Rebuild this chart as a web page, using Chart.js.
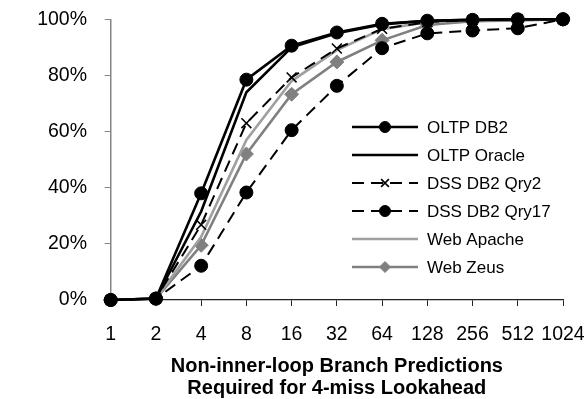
<!DOCTYPE html>
<html>
<head>
<meta charset="utf-8">
<script src="https://cdn.jsdelivr.net/npm/chart.js@4.4.1/dist/chart.umd.min.js"></script>
<style>
  html, body { margin: 0; padding: 0; background: #fff; }
  #wrap { width: 586px; height: 399px; }
</style>
</head>
<body>
<div id="wrap"><canvas id="chart"></canvas></div>
<script>
// ---- data ----
var predictions = ['1', '2', '4', '8', '16', '32', '64', '128', '256', '512', '1024'];
var oltpDb2    = [0, 0.5, 38.0, 78.5, 90.6, 95.3, 98.4, 99.5, 99.8, 100, 100];
var oltpOracle = [0, 0.5, 31.5, 74.0, 90.0, 95.0, 98.2, 99.5, 99.8, 100, 100];
var dssQry2    = [0, 0.5, 26.8, 63.0, 79.3, 89.6, 96.6, 99.0, 99.7, 100, 100];
var dssQry17   = [0, 0.5, 12.2, 38.3, 60.5, 76.3, 89.7, 95.0, 96.0, 96.8, 100];
var webApache  = [0, 0.5, 22.5, 57.0, 78.0, 89.0, 96.5, 99.0, 99.7, 100, 100];
var webZeus    = [0, 0.5, 19.5, 52.0, 73.3, 84.8, 92.5, 98.0, 99.3, 99.6, 100];
var yTicks = [0, 20, 40, 60, 80, 100];

var FONT = "'Liberation Sans', Arial, sans-serif";

function series(label, data, color, width, dash, style, radius) {
  return {
    label: label, data: data,
    borderColor: color, backgroundColor: color,
    borderWidth: width, borderDash: dash,
    pointStyle: style, pointRadius: style ? radius : 0,
    pointBorderColor: color, pointBackgroundColor: color,
    pointBorderWidth: style === 'crossRot' ? 1.6 : 1,
    pointHoverRadius: 0, tension: 0, fill: false, clip: false
  };
}

// no extra room for label overhang, the box sizes below are fixed
function noScalePadding(s) {
  s.paddingTop = 0; s.paddingBottom = 0; s.paddingLeft = 0; s.paddingRight = 0;
}

// ---- legend drawn like the Excel one: line sample with a marker in the middle ----
var lineLegend = {
  id: 'lineLegend',
  afterDraw: function(chart) {
    var ctx = chart.ctx;
    var x0 = 352, x1 = 418, tx = 427, y = 127, step = 28;
    ctx.save();
    chart.data.datasets.forEach(function(ds, i) {
      var yy = y + i * step;
      ctx.strokeStyle = ds.borderColor;
      ctx.lineWidth = ds.borderWidth;
      ctx.setLineDash(ds.borderDash || []);
      ctx.beginPath(); ctx.moveTo(x0, yy); ctx.lineTo(x1, yy); ctx.stroke();
      ctx.setLineDash([]);
      if (ds.pointStyle) {
        ctx.fillStyle = ds.pointBackgroundColor;
        ctx.lineWidth = ds.pointBorderWidth;
        Chart.helpers.drawPoint(ctx, { pointStyle: ds.pointStyle, rotation: 0, radius: 5.5, borderWidth: ds.pointBorderWidth }, (x0 + x1) / 2, yy);
      }
      ctx.fillStyle = '#000';
      ctx.font = '17px ' + FONT;
      ctx.textBaseline = 'middle';
      ctx.textAlign = 'left';
      ctx.fillText(ds.label, tx, yy + 1);
    });
    ctx.restore();
  }
};

var ctx = document.getElementById('chart').getContext('2d');
var chart = new Chart(ctx, {
  type: 'line',
  data: {
    labels: predictions,
    datasets: [
      series('OLTP DB2', oltpDb2, '#000000', 2.6, [], 'circle', 6.5),
      series('OLTP Oracle', oltpOracle, '#000000', 2.6, [], false, 0),
      series('DSS DB2 Qry2', dssQry2, '#000000', 2, [12, 7], 'crossRot', 7),
      series('DSS DB2 Qry17', dssQry17, '#000000', 2, [12, 7], 'circle', 6.5),
      series('Web Apache', webApache, '#a0a0a0', 2.6, [], false, 0),
      series('Web Zeus', webZeus, '#808080', 2.6, [], 'rectRot', 7)
    ]
  },
  options: {
    responsive: true, maintainAspectRatio: false,
    animation: false,
    layout: { padding: { left: 0, right: 23, top: 19.3, bottom: 0 } },
    plugins: { legend: { display: false }, tooltip: { enabled: false } },
    scales: {
      x: {
        offset: false,
        afterFit: function(s) { s.height = 99; noScalePadding(s); },
        grid: { display: true, drawOnChartArea: false, drawTicks: true, tickLength: 6, color: '#222' },
        border: { display: true, color: '#222', width: 1.3 },
        ticks: { color: '#000', font: { family: FONT, size: 19.5 }, padding: 17, maxRotation: 0, autoSkip: false },
        title: {
          display: true,
          text: ['Non-inner-loop Branch Predictions', 'Required for 4-miss Lookahead'],
          color: '#000', font: { family: FONT, size: 20, weight: 'bold', lineHeight: 1.1 },
          padding: { top: 2, bottom: 0 }
        }
      },
      y: {
        min: 0, max: 100,
        afterFit: function(s) { s.width = 110.7; noScalePadding(s); },
        afterBuildTicks: function(s) { s.ticks = yTicks.map(function(v) { return { value: v }; }); },
        grid: { display: true, drawOnChartArea: false, drawTicks: true, tickLength: 6, color: '#868686' },
        border: { display: true, color: '#868686', width: 1.5 },
        ticks: { color: '#000', font: { family: FONT, size: 19.5 }, padding: 17.7,
                 callback: function(v) { return v + '%'; } }
      }
    }
  },
  plugins: [lineLegend]
});
</script>
</body>
</html>
